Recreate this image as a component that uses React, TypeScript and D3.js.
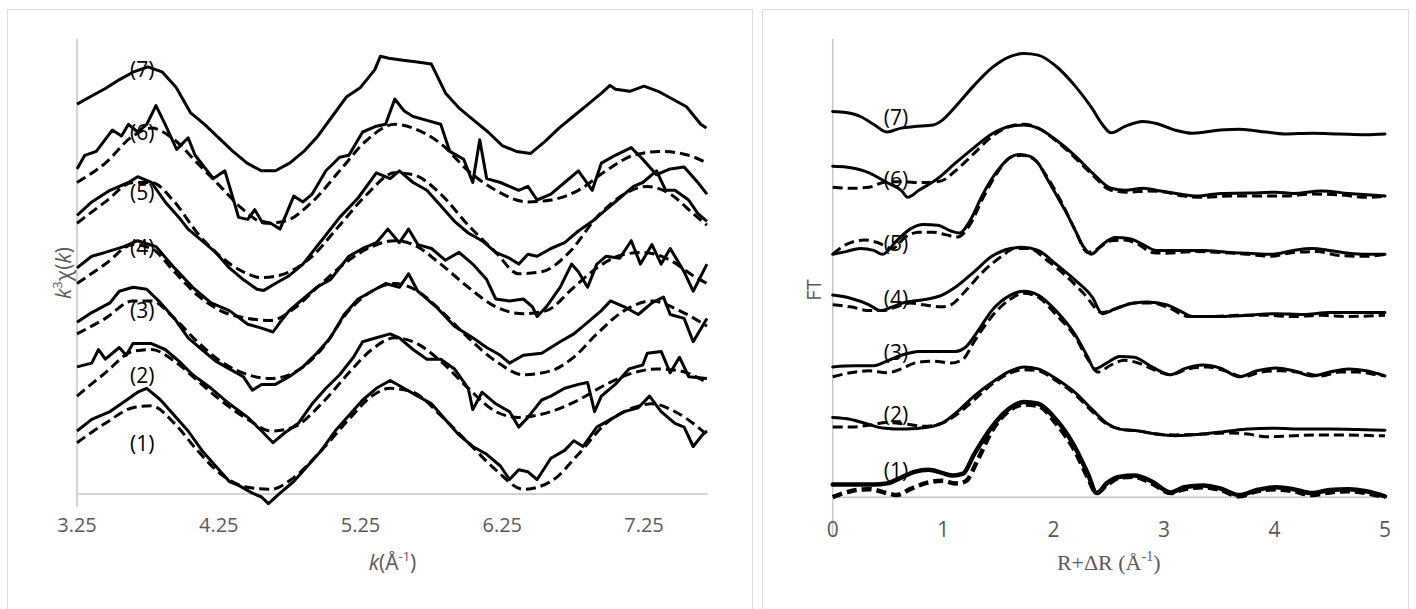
import React from "react";
import * as d3 from "d3";

// ---------- LEFT PANEL: k^3 chi(k) (arbitrary offset units) ----------
const kTicks = [3.25, 4.25, 5.25, 6.25, 7.25];

const kData7: [number, number][] = [[3.25,38.99],[3.35,39.77],[3.45,40.55],[3.55,41.44],[3.65,42.22],[3.75,42.72],[3.85,42.22],[3.95,40.66],[4.05,38.14],[4.15,36.97],[4.25,35.62],[4.35,34.26],[4.45,33.09],[4.55,32.32],[4.65,32.32],[4.75,33.09],[4.85,34.26],[4.95,35.81],[5.05,37.75],[5.15,39.69],[5.25,40.66],[5.35,42.41],[5.39,43.77],[5.45,43.58],[5.55,43.38],[5.65,43.19],[5.75,42.99],[5.85,40.08],[5.95,38.53],[6.05,37.36],[6.15,36.2],[6.25,34.84],[6.35,34.26],[6.45,34.06],[6.55,35.23],[6.65,36.59],[6.75,37.75],[6.85,38.92],[6.95,40.08],[7.01,40.86],[7.05,40.47],[7.15,40.27],[7.25,40.78],[7.35,40.27],[7.45,39.5],[7.55,38.72],[7.65,36.97],[7.69,36.59]];

const kData6: [number, number][] = [[3.25,32.51],[3.305,33.87],[3.386,34.26],[3.499,36.39],[3.564,35.81],[3.613,36.97],[3.678,36.2],[3.742,36.97],[3.807,38.84],[3.872,36.97],[3.953,34.45],[4.034,35.62],[4.083,33.87],[4.212,31.54],[4.293,32.32],[4.342,29.99],[4.39,27.66],[4.455,27.46],[4.504,28.43],[4.552,27.27],[4.617,27.07],[4.682,26.49],[4.779,29.79],[4.844,29.21],[4.909,29.99],[5.006,32.32],[5.103,33.67],[5.168,33.87],[5.265,36.2],[5.362,36.78],[5.427,36.97],[5.492,39.5],[5.556,38.33],[5.621,37.75],[5.718,37.36],[5.816,36.97],[5.88,34.26],[5.978,33.48],[6.042,31.15],[6.091,35.42],[6.14,31.54],[6.237,31.15],[6.301,30.76],[6.366,30.37],[6.431,30.76],[6.496,29.4],[6.593,29.99],[6.69,31.15],[6.787,32.32],[6.885,30.37],[6.949,33.09],[7.047,33.87],[7.16,34.64],[7.241,33.48],[7.338,31.93],[7.435,32.51],[7.533,32.7],[7.63,31.15],[7.694,29.99]];
const kFit6: [number, number][] = [[3.25,31.15],[3.45,33.09],[3.645,35.81],[3.775,36.59],[3.937,35.42],[4.099,33.09],[4.261,30.76],[4.423,28.43],[4.585,27.07],[4.714,27.27],[4.909,29.21],[5.103,32.32],[5.297,35.42],[5.492,36.97],[5.621,36.59],[5.816,35.03],[6.01,32.32],[6.204,30.37],[6.431,29.21],[6.593,29.4],[6.787,30.37],[6.982,32.32],[7.176,33.87],[7.371,34.26],[7.565,33.87],[7.694,33.09]];

const kData5: [number, number][] = [[3.25,27.85],[3.354,29.21],[3.483,30.37],[3.613,31.15],[3.678,31.73],[3.775,31.15],[3.872,29.21],[3.969,27.66],[4.034,26.49],[4.131,25.33],[4.228,24.16],[4.325,22.61],[4.423,21.44],[4.52,20.47],[4.568,20.36],[4.649,21.05],[4.747,21.83],[4.844,22.99],[4.974,25.33],[5.103,27.66],[5.233,29.6],[5.362,32.12],[5.459,31.54],[5.524,32.32],[5.621,31.15],[5.718,30.37],[5.816,28.82],[5.913,27.27],[6.01,26.1],[6.107,25.33],[6.204,24.16],[6.301,23.58],[6.366,22.99],[6.431,23.97],[6.496,23.77],[6.593,24.55],[6.69,25.13],[6.787,26.3],[6.885,27.27],[6.982,28.43],[7.079,29.6],[7.176,30.76],[7.241,31.15],[7.338,32.32],[7.403,30.37],[7.468,30.37],[7.565,29.4],[7.63,28.04],[7.694,27.27]];
const kFit5: [number, number][] = [[3.25,27.07],[3.45,29.21],[3.645,31.15],[3.775,31.15],[3.937,29.21],[4.099,26.1],[4.261,23.77],[4.423,22.22],[4.552,21.64],[4.714,22.02],[4.909,23.77],[5.103,26.88],[5.297,29.99],[5.492,32.12],[5.621,31.93],[5.816,29.99],[6.01,26.88],[6.204,24.16],[6.366,22.02],[6.528,22.22],[6.722,24.16],[6.917,27.66],[7.111,29.99],[7.273,30.76],[7.435,29.99],[7.597,28.04],[7.694,26.88]];

const kData4: [number, number][] = [[3.25,22.61],[3.354,23.77],[3.45,24.16],[3.58,24.74],[3.678,25.33],[3.807,24.74],[3.937,22.61],[4.066,20.67],[4.196,19.11],[4.325,18.34],[4.455,16.98],[4.552,16.59],[4.633,16.2],[4.682,17.17],[4.747,18.34],[4.844,19.5],[4.941,20.67],[5.038,21.44],[5.168,23.77],[5.265,24.55],[5.362,25.13],[5.443,26.49],[5.524,25.13],[5.589,26.49],[5.654,24.94],[5.751,24.55],[5.848,23.38],[5.945,24.16],[6.042,22.99],[6.14,21.44],[6.204,19.5],[6.301,19.31],[6.399,19.5],[6.463,18.72],[6.496,17.75],[6.561,18.72],[6.658,20.67],[6.739,22.99],[6.787,22.22],[6.852,20.67],[6.917,22.99],[6.982,23.77],[7.079,23.58],[7.16,25.33],[7.225,22.99],[7.306,24.94],[7.371,22.99],[7.435,24.55],[7.533,22.22],[7.597,20.28],[7.694,22.99]];
const kFit4: [number, number][] = [[3.25,21.05],[3.45,22.99],[3.645,24.94],[3.775,24.55],[3.937,22.22],[4.099,19.89],[4.261,18.34],[4.455,17.56],[4.617,17.36],[4.779,18.53],[4.974,21.05],[5.168,23.38],[5.33,24.74],[5.492,25.33],[5.621,24.94],[5.816,22.99],[6.01,20.67],[6.204,18.72],[6.399,18.03],[6.561,18.34],[6.755,20.67],[6.917,22.61],[7.111,23.97],[7.241,24.16],[7.435,23.38],[7.597,21.83],[7.694,21.05]];

const kData3: [number, number][] = [[3.25,17.17],[3.354,18.14],[3.483,19.11],[3.548,20.28],[3.645,20.67],[3.742,20.47],[3.84,19.11],[3.937,17.56],[4.034,15.62],[4.131,14.45],[4.228,13.29],[4.325,12.51],[4.423,11.73],[4.487,10.38],[4.552,10.96],[4.649,10.96],[4.747,11.73],[4.844,12.71],[4.941,14.07],[5.038,15.62],[5.135,17.95],[5.233,19.5],[5.33,20.28],[5.427,21.05],[5.524,20.67],[5.589,22.02],[5.654,20.28],[5.783,18.72],[5.913,16.78],[6.042,15.62],[6.14,14.65],[6.237,13.87],[6.301,13.09],[6.399,13.87],[6.528,14.07],[6.658,15.23],[6.755,16.01],[6.852,17.17],[6.949,18.34],[7.014,19.31],[7.111,18.72],[7.209,17.95],[7.306,19.11],[7.387,19.7],[7.435,17.95],[7.533,17.56],[7.597,15.23],[7.694,17.56]];
const kFit3: [number, number][] = [[3.25,16.01],[3.45,17.56],[3.645,19.31],[3.775,19.31],[3.937,17.56],[4.099,15.23],[4.261,13.29],[4.455,11.93],[4.617,11.54],[4.779,12.12],[4.974,14.45],[5.168,18.34],[5.33,20.28],[5.492,21.05],[5.654,20.28],[5.816,18.34],[6.01,15.62],[6.204,13.29],[6.399,11.93],[6.593,12.32],[6.755,13.68],[6.917,16.01],[7.111,18.34],[7.306,19.31],[7.5,18.34],[7.694,16.78]];

const kData2: [number, number][] = [[3.25,12.71],[3.354,13.09],[3.402,14.45],[3.45,13.48],[3.548,14.65],[3.597,13.87],[3.645,15.04],[3.775,15.04],[3.872,14.45],[3.969,13.29],[4.066,11.93],[4.196,10.57],[4.325,9.02],[4.455,7.66],[4.552,6.3],[4.633,5.13],[4.714,6.1],[4.811,7.07],[4.909,9.02],[5.006,10.57],[5.103,11.93],[5.2,13.68],[5.265,15.23],[5.362,15.62],[5.459,16.01],[5.524,15.62],[5.621,14.45],[5.718,13.48],[5.816,13.48],[5.913,12.51],[6.01,10.57],[6.042,8.44],[6.107,10.18],[6.204,9.02],[6.301,8.24],[6.366,6.69],[6.431,7.66],[6.528,9.4],[6.593,9.79],[6.69,10.57],[6.787,10.96],[6.852,11.15],[6.901,8.24],[6.949,9.79],[7.047,10.96],[7.144,12.51],[7.241,12.9],[7.273,14.07],[7.371,14.26],[7.435,12.12],[7.5,13.68],[7.565,11.73],[7.694,11.54]];
const kFit2: [number, number][] = [[3.25,9.79],[3.45,12.12],[3.645,14.26],[3.775,14.45],[3.937,13.29],[4.099,11.35],[4.261,9.4],[4.455,7.46],[4.617,6.3],[4.779,6.69],[4.974,9.02],[5.168,12.12],[5.33,14.45],[5.492,15.62],[5.621,15.23],[5.816,13.29],[6.01,10.57],[6.204,8.24],[6.366,7.66],[6.593,8.24],[6.787,9.4],[6.982,10.96],[7.176,12.12],[7.338,12.51],[7.5,12.32],[7.694,11.15]];

const kData1: [number, number][] = [[3.25,6.3],[3.354,7.46],[3.483,8.24],[3.58,9.21],[3.678,10.18],[3.742,10.57],[3.84,9.4],[3.937,7.85],[4.034,6.3],[4.131,4.36],[4.228,2.8],[4.325,1.25],[4.39,0.86],[4.487,0.09],[4.552,-0.3],[4.6,-0.96],[4.682,0.09],[4.779,1.25],[4.876,2.8],[4.974,4.36],[5.071,6.3],[5.168,7.85],[5.265,9.4],[5.362,10.57],[5.459,11.35],[5.556,10.57],[5.654,9.79],[5.751,9.02],[5.848,7.46],[5.945,5.91],[6.042,4.75],[6.14,3.97],[6.237,2.8],[6.301,1.45],[6.366,2.42],[6.431,2.22],[6.496,1.45],[6.593,3.58],[6.69,4.36],[6.755,5.33],[6.82,4.75],[6.917,6.69],[7.014,7.46],[7.111,8.24],[7.209,8.63],[7.289,9.79],[7.371,8.24],[7.468,7.07],[7.533,6.69],[7.597,4.75],[7.662,5.91],[7.694,6.3]];
const kFit1: [number, number][] = [[3.25,5.13],[3.45,7.07],[3.645,8.63],[3.775,8.82],[3.937,7.07],[4.099,4.36],[4.261,2.03],[4.455,0.67],[4.617,0.47],[4.779,1.64],[4.974,4.36],[5.168,7.46],[5.33,9.79],[5.459,10.57],[5.621,10.18],[5.816,7.85],[6.01,5.13],[6.204,2.42],[6.399,0.47],[6.593,1.25],[6.787,3.97],[6.982,7.07],[7.176,8.63],[7.306,9.02],[7.468,8.24],[7.63,6.69],[7.694,5.91]];

const leftLabelNames = ["(7)", "(6)", "(5)", "(4)", "(3)", "(2)", "(1)"];
const leftLabelK = [3.71, 3.71, 3.71, 3.71, 3.71, 3.71, 3.71];
const leftLabelV = [42.47, 36.23, 30.23, 24.73, 18.4, 11.9, 5.07];

// ---------- RIGHT PANEL: FT magnitude (arbitrary offset units) ----------
const rTicks = [0, 1, 2, 3, 4, 5];

const rData7: [number, number][] = [[0,38.59],[0.12,38.47],[0.25,38.08],[0.37,37.3],[0.49,36.53],[0.62,36.92],[0.74,37.07],[0.91,37.23],[0.99,37.69],[1.11,39.05],[1.28,41.19],[1.44,42.94],[1.61,44.1],[1.73,44.37],[1.86,44.22],[2.02,43.13],[2.19,41.19],[2.35,38.86],[2.44,37.3],[2.52,36.45],[2.65,37.11],[2.81,37.58],[2.93,37.38],[3.1,36.72],[3.26,36.41],[3.51,36.72],[3.68,36.8],[3.92,36.53],[4.09,36.33],[4.34,36.41],[4.59,36.33],[4.83,36.26],[5.0,36.33]];

const rData6: [number, number][] = [[0,33.11],[0.12,33.03],[0.33,32.45],[0.49,31.48],[0.62,30.7],[0.68,30.0],[0.78,30.7],[0.95,31.87],[1.11,33.42],[1.28,34.97],[1.44,36.33],[1.61,37.11],[1.73,37.23],[1.86,36.92],[2.02,35.75],[2.19,34.2],[2.35,32.45],[2.52,30.9],[2.65,30.7],[2.81,30.9],[2.97,30.63],[3.14,30.32],[3.3,30.12],[3.51,30.39],[3.76,30.43],[4.01,30.51],[4.17,30.39],[4.42,30.63],[4.67,30.39],[5.0,30.12]];
const rFit6: [number, number][] = [[0,31.01],[0.16,30.9],[0.33,31.01],[0.49,31.56],[0.62,31.56],[0.74,31.48],[0.87,31.48],[0.99,31.67],[1.11,32.64],[1.28,34.39],[1.44,36.06],[1.61,37.11],[1.73,37.3],[1.86,36.92],[2.02,35.67],[2.19,34.0],[2.35,32.26],[2.52,30.7],[2.69,30.51],[2.85,30.63],[3.02,30.51],[3.18,30.12],[3.35,30.0],[3.59,30.12],[3.84,30.12],[4.09,30.12],[4.34,30.32],[4.59,30.24],[4.83,30.0],[5.0,30.12]];

const rData5: [number, number][] = [[0,24.3],[0.12,24.57],[0.25,24.88],[0.37,24.69],[0.45,24.3],[0.58,25.66],[0.7,26.82],[0.82,27.29],[0.95,27.21],[1.07,26.63],[1.15,26.43],[1.24,27.6],[1.36,30.32],[1.49,32.64],[1.61,34.0],[1.69,34.28],[1.78,34.12],[1.86,33.42],[1.94,31.87],[2.02,30.32],[2.11,28.57],[2.19,26.82],[2.27,25.07],[2.34,24.3],[2.44,25.27],[2.56,25.97],[2.69,25.85],[2.81,25.27],[2.93,24.69],[3.1,24.69],[3.35,24.69],[3.59,24.49],[3.76,24.41],[3.97,24.3],[4.17,24.69],[4.34,24.88],[4.5,24.69],[4.67,24.41],[4.83,24.3],[5.0,24.3]];
const rFit5: [number, number][] = [[0,24.3],[0.12,25.27],[0.29,25.73],[0.41,25.46],[0.54,24.88],[0.66,26.04],[0.78,26.51],[0.91,26.51],[1.03,26.24],[1.13,26.04],[1.24,27.21],[1.36,29.93],[1.49,32.45],[1.61,34.0],[1.71,34.2],[1.82,33.81],[1.94,32.06],[2.07,29.54],[2.19,26.82],[2.31,24.49],[2.4,24.88],[2.52,25.66],[2.64,25.73],[2.77,25.27],[2.89,24.49],[3.02,24.41],[3.26,24.57],[3.51,24.49],[3.76,24.3],[3.97,24.1],[4.17,24.49],[4.38,24.57],[4.59,24.18],[4.83,24.1],[5.0,24.3]];

const rData4: [number, number][] = [[0,20.22],[0.16,19.91],[0.33,19.25],[0.43,18.67],[0.54,19.05],[0.66,19.52],[0.82,19.75],[0.99,20.22],[1.11,21.0],[1.28,22.55],[1.44,24.1],[1.61,24.88],[1.71,25.0],[1.86,24.69],[2.02,23.33],[2.19,21.77],[2.35,20.02],[2.44,18.36],[2.56,18.86],[2.73,19.44],[2.85,19.52],[3.02,19.25],[3.14,18.67],[3.26,18.08],[3.51,18.08],[3.76,18.2],[4.01,18.36],[4.26,18.28],[4.5,18.47],[4.75,18.47],[5.0,18.47]];
const rFit4: [number, number][] = [[0,19.25],[0.16,19.05],[0.33,18.67],[0.45,18.67],[0.58,19.05],[0.7,19.44],[0.82,19.25],[0.99,19.05],[1.07,19.25],[1.2,20.61],[1.36,22.55],[1.53,24.1],[1.65,24.88],[1.78,24.88],[1.94,23.71],[2.11,22.16],[2.27,20.41],[2.44,18.47],[2.56,18.86],[2.73,19.44],[2.89,19.44],[3.06,18.86],[3.22,18.08],[3.43,18.08],[3.68,18.2],[3.92,18.2],[4.17,18.08],[4.42,18.2],[4.67,18.08],[5.0,18.2]];

const rData3: [number, number][] = [[0,13.04],[0.2,13.15],[0.37,13.15],[0.49,13.62],[0.62,14.2],[0.78,14.59],[0.95,14.59],[1.11,14.59],[1.2,14.98],[1.32,16.72],[1.44,18.67],[1.61,20.22],[1.73,20.61],[1.86,20.22],[2.02,18.67],[2.19,16.34],[2.31,14.01],[2.37,12.84],[2.48,13.42],[2.6,14.08],[2.73,14.01],[2.89,13.04],[3.06,12.26],[3.18,12.84],[3.35,13.23],[3.51,12.92],[3.68,12.06],[3.84,12.65],[4.01,12.92],[4.17,12.65],[4.34,12.14],[4.5,12.53],[4.67,12.84],[4.83,12.65],[5.0,12.14]];
const rFit3: [number, number][] = [[0,12.06],[0.16,12.45],[0.33,12.65],[0.49,12.45],[0.62,12.84],[0.74,13.42],[0.91,13.62],[1.07,13.42],[1.18,13.81],[1.28,15.56],[1.44,18.08],[1.61,19.83],[1.73,20.41],[1.86,20.02],[2.02,18.28],[2.19,16.14],[2.31,13.81],[2.4,12.53],[2.52,13.23],[2.64,13.7],[2.77,13.42],[2.89,12.84],[3.06,12.26],[3.22,12.84],[3.39,13.04],[3.55,12.65],[3.72,12.06],[3.88,12.53],[4.05,12.65],[4.26,12.45],[4.42,12.14],[4.59,12.53],[4.75,12.53],[4.92,12.26],[5.0,12.14]];

const rData2: [number, number][] = [[0,7.99],[0.12,7.87],[0.29,7.41],[0.45,6.94],[0.66,6.82],[0.87,7.02],[0.99,7.41],[1.11,8.38],[1.28,10.12],[1.44,11.48],[1.61,12.65],[1.73,13.04],[1.86,12.84],[2.02,11.87],[2.19,10.51],[2.35,8.77],[2.48,7.41],[2.6,6.82],[2.77,6.63],[2.93,6.32],[3.1,6.16],[3.35,6.32],[3.59,6.63],[3.76,6.82],[4.01,6.9],[4.26,6.82],[4.5,6.82],[4.75,6.78],[5.0,6.71]];
const rFit2: [number, number][] = [[0,7.02],[0.16,7.02],[0.33,7.21],[0.49,7.48],[0.66,7.33],[0.82,7.1],[0.99,7.41],[1.11,8.18],[1.28,9.73],[1.44,11.29],[1.61,12.45],[1.73,12.76],[1.86,12.65],[2.02,11.68],[2.19,10.32],[2.35,8.57],[2.48,7.33],[2.6,6.82],[2.77,6.63],[2.93,6.32],[3.1,6.24],[3.35,6.32],[3.59,6.43],[3.76,6.32],[3.92,6.05],[4.17,6.16],[4.42,6.24],[4.67,6.24],[4.92,6.16],[5.0,6.16]];

const rData1: [number, number][] = [[0,1.27],[0.2,1.27],[0.37,1.27],[0.49,1.39],[0.62,1.97],[0.74,2.55],[0.87,2.75],[0.99,2.44],[1.09,2.17],[1.18,2.36],[1.28,4.3],[1.44,7.02],[1.61,8.96],[1.73,9.54],[1.86,9.35],[2.02,7.8],[2.19,5.08],[2.31,2.36],[2.39,0.42],[2.48,1.39],[2.6,2.05],[2.73,2.17],[2.89,1.58],[3.06,0.49],[3.18,1.0],[3.35,1.19],[3.51,0.88],[3.68,0.22],[3.84,0.73],[4.01,1.0],[4.17,0.81],[4.34,0.42],[4.5,0.73],[4.67,0.81],[4.83,0.61],[5.0,0.1]];
const rFit1: [number, number][] = [[0,0.02],[0.16,0.61],[0.33,0.81],[0.49,0.42],[0.58,0.22],[0.7,0.81],[0.87,1.5],[0.99,1.66],[1.11,1.39],[1.2,1.58],[1.32,3.91],[1.44,6.63],[1.61,8.77],[1.73,9.27],[1.86,9.15],[2.02,7.41],[2.19,4.69],[2.31,1.97],[2.39,0.42],[2.48,1.19],[2.6,1.97],[2.73,2.05],[2.89,1.39],[3.06,0.42],[3.18,0.81],[3.35,1.0],[3.51,0.73],[3.68,0.1],[3.84,0.61],[4.01,0.81],[4.17,0.61],[4.34,0.22],[4.5,0.49],[4.67,0.61],[4.83,0.42],[5.0,0.02]];

const rightLabelNames = ["(7)", "(6)", "(5)", "(4)", "(3)", "(2)", "(1)"];
const rightLabelR = [0.573, 0.573, 0.573, 0.573, 0.573, 0.573, 0.573];
const rightLabelV = [38.08, 31.87, 25.46, 19.93, 14.58, 8.37, 2.73];

// ---------- drawing ----------
const W = 1416;
const H = 609;
const SANS = "'Open Sans', 'DejaVu Sans', sans-serif";
const SERIF = "'Liberation Serif', 'DejaVu Serif', serif";
const AXIS_GRAY = "#c6c6c6";
const BORDER_GRAY = "#d9d9d9";
const TEXT_GRAY = "#595959";

export default function App() {
  // left scales
  const xL = d3.scaleLinear().domain([3.25, 7.7]).range([77, 707.8]);
  const yL = d3.scaleLinear().domain([0, 45.5]).range([494, 39]);
  // right scales
  const xR = d3.scaleLinear().domain([0, 5]).range([832.7, 1385]);
  const yR = d3.scaleLinear().domain([0, 45.85]).range([497.3, 38.8]);

  const lineLData = d3.line<[number, number]>().x((d) => xL(d[0])).y((d) => yL(d[1])).curve(d3.curveLinear);
  const lineLFit = d3.line<[number, number]>().x((d) => xL(d[0])).y((d) => yL(d[1])).curve(d3.curveMonotoneX);
  const lineR = d3.line<[number, number]>().x((d) => xR(d[0])).y((d) => yR(d[1])).curve(d3.curveMonotoneX);

  const leftData = [kData7, kData6, kData5, kData4, kData3, kData2, kData1];
  const leftFits = [kFit6, kFit5, kFit4, kFit3, kFit2, kFit1];
  const rightData = [rData7, rData6, rData5, rData4, rData3, rData2, rData1];
  const rightFits = [rFit6, rFit5, rFit4, rFit3, rFit2, rFit1];

  const [l0, l1] = xL.range();
  const [r0, r1] = xR.range();

  return (
    <svg
      width={W}
      height={H}
      viewBox={`0 0 ${W} ${H}`}
      style={{ position: "absolute", left: 0, top: 0, background: "#fff" }}
    >
      <rect x={0} y={0} width={W} height={H} fill="#fff" />
      {/* panel borders */}
      <rect x={7.5} y={9.5} width={745} height={620} fill="none" stroke={BORDER_GRAY} strokeWidth={1} />
      <rect x={762.5} y={9.5} width={646} height={620} fill="none" stroke={BORDER_GRAY} strokeWidth={1} />

      {/* LEFT axes */}
      <line x1={l0} x2={l0} y1={yL(45.5)} y2={507} stroke={AXIS_GRAY} strokeWidth={1.5} />
      <line x1={l0} x2={l1} y1={yL(0)} y2={yL(0)} stroke={AXIS_GRAY} strokeWidth={1.5} />
      {kTicks.map((t) => (
        <text key={t} x={xL(t)} y={532} textAnchor="middle" fontFamily={SANS} fontSize={20} fill={TEXT_GRAY}>
          {t.toFixed(2)}
        </text>
      ))}
      <text x={392.5} y={570} textAnchor="middle" fontFamily={SANS} fontSize={21} fill={TEXT_GRAY}>
        <tspan fontStyle="italic">k</tspan>
        <tspan>(Å</tspan>
        <tspan fontSize={13} dy={-9}>-1</tspan>
        <tspan dy={9}>)</tspan>
      </text>
      <text
        transform={`translate(71, 273) rotate(-90)`}
        textAnchor="middle"
        fontFamily={SANS}
        fontSize={21}
        fill={TEXT_GRAY}
      >
        <tspan fontStyle="italic">k</tspan>
        <tspan fontSize={13} dy={-9}>3</tspan>
        <tspan dy={9}>χ(</tspan>
        <tspan fontStyle="italic">k</tspan>
        <tspan>)</tspan>
      </text>

      {/* LEFT curves */}
      <g fill="none" stroke="#000" strokeLinejoin="round">
        {leftData.map((d, i) => (
          <path key={"ld" + i} d={lineLData(d) || ""} strokeWidth={3} />
        ))}
        {leftFits.map((d, i) => (
          <path key={"lf" + i} d={lineLFit(d) || ""} strokeWidth={3} strokeDasharray="10 5" />
        ))}
      </g>
      {leftLabelNames.map((n, i) => (
        <text
          key={"ll" + i}
          x={xL(leftLabelK[i])}
          y={yL(leftLabelV[i])}
          textAnchor="middle"
          dominantBaseline="central"
          fontFamily={SANS}
          fontSize={21}
          fill="#000"
        >
          {n}
        </text>
      ))}

      {/* RIGHT axes */}
      <line x1={r0} x2={r0} y1={yR(45.85)} y2={536} stroke={AXIS_GRAY} strokeWidth={1.5} />
      <line x1={r0} x2={r1} y1={yR(0)} y2={yR(0)} stroke={AXIS_GRAY} strokeWidth={1.5} />
      {rTicks.map((t) => (
        <text key={t} x={xR(t)} y={537} textAnchor="middle" fontFamily={SANS} fontSize={21} fill={TEXT_GRAY}>
          {t}
        </text>
      ))}
      <text x={1108.7} y={570} textAnchor="middle" fontFamily={SERIF} fontSize={22} fill={TEXT_GRAY}>
        <tspan>R+ΔR (Å</tspan>
        <tspan fontSize={14} dy={-9}>-1</tspan>
        <tspan dy={9}>)</tspan>
      </text>
      <text
        transform={`translate(821, 290) rotate(-90)`}
        textAnchor="middle"
        fontFamily={SANS}
        fontSize={20}
        fill={TEXT_GRAY}
      >
        FT
      </text>

      {/* RIGHT curves */}
      <g fill="none" stroke="#000" strokeLinejoin="round" strokeLinecap="round">
        {rightData.map((d, i) => (
          <path key={"rd" + i} d={lineR(d) || ""} strokeWidth={i === 6 ? 4.5 : 3} />
        ))}
        {rightFits.map((d, i) => (
          <path key={"rf" + i} d={lineR(d) || ""} strokeWidth={i === 5 ? 4.5 : 3} strokeDasharray="10 5" strokeLinecap="butt" />
        ))}
      </g>
      {rightLabelNames.map((n, i) => (
        <text
          key={"rl" + i}
          x={xR(rightLabelR[i])}
          y={yR(rightLabelV[i])}
          textAnchor="middle"
          dominantBaseline="central"
          fontFamily={SANS}
          fontSize={21}
          fill="#000"
        >
          {n}
        </text>
      ))}
    </svg>
  );
}
